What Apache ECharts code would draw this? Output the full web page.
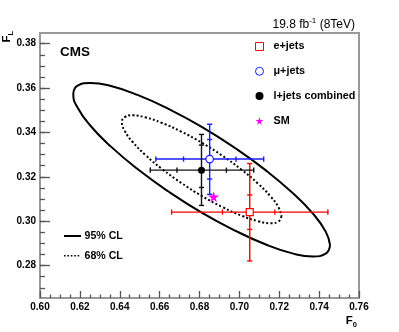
<!DOCTYPE html>
<html><head><meta charset="utf-8">
<script src="https://cdn.jsdelivr.net/npm/echarts@6/dist/echarts.min.js"></script>
<style>html,body{margin:0;padding:0;background:#fff}#c{width:399px;height:332px}</style>
</head><body><div id="c"></div>
<script>
// ---- data ----
const channels = ['e+jets', 'μ+jets', 'l+jets combined'];
const f0 = [0.7052, 0.6851, 0.6810];
const fl = [0.3041, 0.3280, 0.3230];
const f0TotLo = [0.6660, 0.6581, 0.6553];
const f0TotHi = [0.7444, 0.7122, 0.7072];
const f0StatLo = [0.6915, 0.6720, 0.6687];
const f0StatHi = [0.7178, 0.6983, 0.6935];
const flTotLo = [0.2821, 0.3121, 0.3071];
const flTotHi = [0.3260, 0.3437, 0.3391];
const flStatLo = [0.2963, 0.3190, 0.3152];
const flStatHi = [0.3118, 0.3368, 0.3343];
const smF0 = [0.6871];
const smFL = [0.3110];

// 95% CL contour (solid) read around the ellipse
const ell95F0 = [0.7455,0.7433,0.7369,0.7266,0.7133,0.6978,0.6811,0.6644,0.6489,0.6356,0.6253,0.6189,0.6167,0.6189,0.6253,0.6356,0.6489,0.6644,0.6811,0.6978,0.7133,0.7266,0.7369,0.7433,0.7455];
const ell95FL = [0.2892,0.2854,0.2841,0.2855,0.2895,0.2958,0.3039,0.3134,0.3235,0.3336,0.3430,0.3511,0.3572,0.3611,0.3623,0.3609,0.3569,0.3506,0.3425,0.3330,0.3229,0.3128,0.3034,0.2953,0.2892];
// 68% CL contour (dotted)
const ell68F0 = [0.7211,0.7197,0.7157,0.7094,0.7011,0.6915,0.6811,0.6708,0.6611,0.6528,0.6465,0.6425,0.6411,0.6425,0.6465,0.6528,0.6611,0.6708,0.6811,0.6915,0.7011,0.7094,0.7157,0.7197,0.7211];
const ell68FL = [0.3023,0.2999,0.2991,0.3000,0.3025,0.3064,0.3114,0.3173,0.3236,0.3299,0.3357,0.3407,0.3445,0.3469,0.3477,0.3468,0.3443,0.3404,0.3354,0.3295,0.3232,0.3169,0.3111,0.3061,0.3023];

const xMin = 0.60, xMax = 0.76, xStep = 0.02;
const yMin = 0.2654, yMax = 0.3848;
const yTicks = [0.28, 0.30, 0.32, 0.34, 0.36, 0.38];
const yMinorTicks = [0.27,0.275,0.28,0.285,0.29,0.295,0.30,0.305,0.31,0.315,0.32,0.325,0.33,0.335,0.34,0.345,0.35,0.355,0.36,0.365,0.37,0.375,0.38];
const clLabels = ['95% CL', '68% CL'];

const barColors = ['#ff0000', '#1a1aff', '#111111'];
const FONT = "'Liberation Sans', Arial, Helvetica, sans-serif";

const chart = echarts.init(document.getElementById('c'), null, {renderer: 'canvas'});

function errRender(params, api) {
  const i = api.value(2);
  const c = api.coord([f0[i], fl[i]]);
  const px = v => api.coord([v, fl[i]])[0];
  const py = v => api.coord([f0[i], v])[1];
  const xl = px(f0TotLo[i]), xh = px(f0TotHi[i]), xsl = px(f0StatLo[i]), xsh = px(f0StatHi[i]);
  const yl = py(flTotLo[i]), yh = py(flTotHi[i]), ysl = py(flStatLo[i]), ysh = py(flStatHi[i]);
  const style = {stroke: barColors[i], lineWidth: 1.4};
  const h = 2.6;
  const L = (x1, y1, x2, y2) => ({type: 'line', shape: {x1, y1, x2, y2}, style});
  return {type: 'group', children: [
    L(xl, c[1], xh, c[1]), L(c[0], yl, c[0], yh),
    L(xl, c[1]-h, xl, c[1]+h), L(xh, c[1]-h, xh, c[1]+h),
    L(xsl, c[1]-h, xsl, c[1]+h), L(xsh, c[1]-h, xsh, c[1]+h),
    L(c[0]-h, yl, c[0]+h, yl), L(c[0]-h, yh, c[0]+h, yh),
    L(c[0]-h, ysl, c[0]+h, ysl), L(c[0]-h, ysh, c[0]+h, ysh)
  ]};
}

const starPath = 'path://M50,0 L61,35 L98,35 L68,57 L79,91 L50,70 L21,91 L32,57 L2,35 L39,35 Z';

const option = {
  animation: false,
  backgroundColor: '#fff',
  textStyle: {fontFamily: FONT},
  grid: {left: 40, right: 40, top: 33, bottom: 34, show: true, borderColor: '#999', borderWidth: 2, backgroundColor: 'transparent'},
  xAxis: {
    type: 'value', min: xMin, max: xMax, interval: xStep,
    axisLine: {show: false},
    axisTick: {inside: true, length: 7, lineStyle: {color: '#555', width: 1.3}},
    minorTick: {show: true, splitNumber: 4, length: 3.5, lineStyle: {color: '#555', width: 1.3}},
    splitLine: {show: false},
    axisLabel: {margin: 4, fontFamily: FONT, fontWeight: 'bold', fontSize: 10, color: '#000', formatter: v => v.toFixed(2)}
  },
  yAxis: [{
    type: 'value', min: yMin, max: yMax,
    axisLine: {show: false},
    axisTick: {inside: true, length: 10, customValues: yTicks, lineStyle: {color: '#555', width: 1.3}},
    splitLine: {show: false},
    axisLabel: {margin: 4, customValues: yTicks, fontFamily: FONT, fontWeight: 'bold', fontSize: 10, color: '#000', formatter: v => v.toFixed(2)}
  }, {
    type: 'value', min: yMin, max: yMax, position: 'left',
    axisLine: {show: false},
    axisTick: {inside: true, length: 5, customValues: yMinorTicks, lineStyle: {color: '#555', width: 1.3}},
    splitLine: {show: false},
    axisLabel: {show: false}
  }],
  legend: [{
    data: [
      {name: 'e+jets', itemStyle: {color: '#fff', borderColor: '#ff0000', borderWidth: 1}},
      {name: 'μ+jets', itemStyle: {color: '#fff', borderColor: '#1a1aff', borderWidth: 1}},
      {name: 'l+jets combined', itemStyle: {color: '#000', borderWidth: 0}},
      {name: 'SM', itemStyle: {color: '#ff00ff', borderWidth: 0}}
    ],
    orient: 'vertical', left: 250, top: 36, itemWidth: 8, itemHeight: 8, itemGap: 13.8,
    textStyle: {fontFamily: FONT, fontWeight: 'bold', fontSize: 10.8, color: '#000', lineHeight: 11, padding: [0, 0, 0, 5]},
    selectedMode: false
  }],
  series: [
    {name: '95% CL', type: 'line', symbol: 'none', smooth: 0.5, data: ell95F0.map((x, i) => [x, ell95FL[i]]),
     lineStyle: {color: '#000', width: 2}, itemStyle: {color: '#000'}, z: 2},
    {name: '68% CL', type: 'line', symbol: 'none', smooth: 0.5, data: ell68F0.map((x, i) => [x, ell68FL[i]]),
     lineStyle: {color: '#000', width: 2, type: [2, 2.2]}, itemStyle: {color: '#000'}, z: 2},
    {name: 'errors', type: 'custom', renderItem: errRender, data: channels.map((_, i) => [f0[i], fl[i], i]),
     encode: {x: 0, y: 1}, z: 3, silent: true},
    {name: 'e+jets', type: 'scatter', symbol: 'rect', symbolSize: 7, data: [[f0[0], fl[0]]],
     itemStyle: {color: '#fff', borderColor: '#ff0000', borderWidth: 1.2, opacity: 1}, z: 5},
    {name: 'μ+jets', type: 'scatter', symbol: 'circle', symbolSize: 7.5, data: [[f0[1], fl[1]]],
     itemStyle: {color: '#fff', borderColor: '#1a1aff', borderWidth: 1.2, opacity: 1}, z: 5},
    {name: 'l+jets combined', type: 'scatter', symbol: 'circle', symbolSize: 7, data: [[f0[2], fl[2]]],
     itemStyle: {color: '#000', opacity: 1}, z: 5},
    {name: 'SM', type: 'scatter', symbol: starPath, symbolSize: 11, data: smF0.map((x, i) => [x, smFL[i]]),
     itemStyle: {color: '#ff00ff', opacity: 1}, z: 6}
  ],
  graphic: [
    {type: 'text', x: 60, y: 52, style: {text: 'CMS', font: 'bold 13.5px ' + FONT, fill: '#000', verticalAlign: 'middle'}},
    {type: 'text', x: 355, y: 24, style: {
      text: '{a|19.8 fb}{s|-1}{a| (8TeV)}', align: 'right', verticalAlign: 'middle',
      rich: {a: {font: '12px ' + FONT, fill: '#000', lineHeight: 14, verticalAlign: 'bottom'},
             s: {font: '8px ' + FONT, fill: '#000', lineHeight: 8, verticalAlign: 'top'}}}},
    {type: 'text', x: 8, y: 31, rotation: Math.PI / 2, style: {
      text: '{f|F}{s|L}', align: 'right', verticalAlign: 'middle',
      rich: {f: {font: 'bold 11.5px ' + FONT, fill: '#000', lineHeight: 14, verticalAlign: 'top'},
             s: {font: 'bold 7.5px ' + FONT, fill: '#000', lineHeight: 8, verticalAlign: 'bottom'}}}},
    {type: 'text', x: 357, y: 322, style: {
      text: '{f|F}{s|0}', align: 'right', verticalAlign: 'middle',
      rich: {f: {font: 'bold 11.5px ' + FONT, fill: '#000', lineHeight: 14, verticalAlign: 'top'},
             s: {font: 'bold 7.5px ' + FONT, fill: '#000', lineHeight: 8, verticalAlign: 'bottom'}}}},
    // CL legend
    {type: 'line', shape: {x1: 64, y1: 236, x2: 81, y2: 236}, style: {stroke: '#000', lineWidth: 2}},
    {type: 'line', shape: {x1: 64, y1: 255.7, x2: 81, y2: 255.7}, style: {stroke: '#000', lineWidth: 1.6, lineDash: [1.6, 1.8]}},
    {type: 'text', x: 84.5, y: 236.5, style: {text: clLabels[0], font: 'bold 10.6px ' + FONT, fill: '#000', verticalAlign: 'middle'}},
    {type: 'text', x: 84.5, y: 256.2, style: {text: clLabels[1], font: 'bold 10.6px ' + FONT, fill: '#000', verticalAlign: 'middle'}}
  ]
};
chart.setOption(option);
</script></body></html>
